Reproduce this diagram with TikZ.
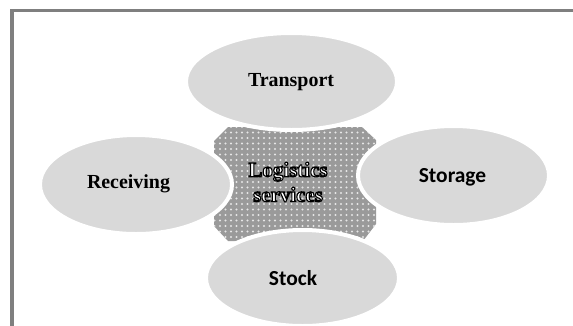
\documentclass[tikz,border=0pt]{standalone}
\usepackage{fontspec}
\setmainfont{Liberation Serif}
\newfontfamily\sansb{Carlito}
\usetikzlibrary{shapes.geometric,patterns.meta}
\definecolor{ellfill}{HTML}{D9D9D9}
\definecolor{framegray}{HTML}{7F7F7F}
\definecolor{hubgray}{HTML}{9A9A9A}
\definecolor{dotcol}{HTML}{E6E6E6}
\newcommand\outlinedword[1]{\special{pdf:literal direct 0 G 2 Tr 1.1 w}#1\special{pdf:literal direct 0 Tr}}
\begin{document}
\begin{tikzpicture}[x=1bp,y=-1bp,
  bubble/.style={ellipse, fill=ellfill, draw=white, line width=4bp, inner sep=0pt},
  serlabel/.style={font=\fontsize{20}{24}\selectfont\bfseries, text=black, inner sep=0pt, anchor=base},
  sanlabel/.style={font=\sansb\fontsize{21.5}{24}\selectfont\bfseries, text=black, inner sep=0pt, anchor=base},
  hubtext/.style={font=\fontsize{21}{25}\selectfont\bfseries, align=center, inner sep=0pt, text=white}
]
\useasboundingbox (0,0) rectangle (573,325);
\fill[white] (0,0) rectangle (573,325);
% frame
\draw[framegray, line width=3.5bp] (12,330) -- (12,10.5) -- (580,10.5);
% central hub shape
\path[fill=hubgray, postaction={pattern={Dots[radius=1.1bp,distance=5.5bp]}, pattern color=dotcol}]
  (228,127) -- (362,127) -- (376,140) -- (376,224) -- (363,241) -- (228,241) -- (214,226) -- (214,141) -- cycle;
% ellipses
\node[bubble, minimum width=211bp, minimum height=97bp] (transport) at (291.5,81.5) {};
\node[bubble, minimum width=192bp, minimum height=99bp] (receiving) at (136,184.5) {};
\node[bubble, minimum width=191bp, minimum height=99bp] (storage) at (453.5,175.5) {};
\node[bubble, minimum width=193bp, minimum height=96bp] (stock) at (302.5,278) {};
% labels
\node[serlabel] (ltransport) at (291,86) {Transport};
\node[serlabel] (lreceiving) at (128.5,188) {Receiving};
\node[sanlabel] (lstorage) at (452.5,182) {Storage};
\node[sanlabel] (lstock) at (293,285) {Stock};
% hub label, white with black outline
\node[hubtext] (hub) at (288,182) {\outlinedword{Logistics}\\\outlinedword{services}};
\end{tikzpicture}
\end{document}
